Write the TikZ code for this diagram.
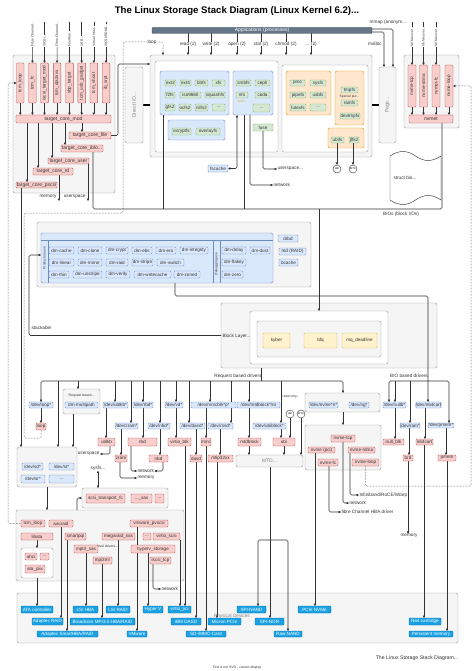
\documentclass[tikz,border=0pt]{standalone}
\usepackage{fontspec}
\setmainfont{Liberation Sans}
\usetikzlibrary{arrows.meta,calc}
\pgfdeclarelayer{back}
\pgfdeclarelayer{mid}
\pgfsetlayers{back,mid,main}
\definecolor{pkF}{HTML}{F8CECC}\definecolor{pkD}{HTML}{B85450}
\definecolor{blF}{HTML}{DAE8FC}\definecolor{blD}{HTML}{6C8EBF}
\definecolor{grF}{HTML}{D5E8D4}\definecolor{grD}{HTML}{82B366}
\definecolor{ogF}{HTML}{FFE6CC}\definecolor{ogD}{HTML}{D79B00}
\definecolor{ylF}{HTML}{FFF2CC}\definecolor{ylD}{HTML}{D6B656}
\definecolor{gyF}{HTML}{F5F5F5}\definecolor{gyD}{HTML}{999999}
\definecolor{phF}{HTML}{1BA1E2}\definecolor{phD}{HTML}{006EAF}
\definecolor{apF}{HTML}{647687}\definecolor{apD}{HTML}{314354}
\definecolor{wireC}{HTML}{333333}
\definecolor{txtC}{HTML}{333333}
\newcommand\fA{\fontsize{5}{5}\selectfont}
\newcommand\fM{\fontsize{4.6}{4.6}\selectfont}
\newcommand\fL{\fontsize{4.7}{4.7}\selectfont}
\newcommand\fS{\fontsize{3.4}{3.4}\selectfont}
\newcommand\BX[7]{\node[#1,minimum width={#5pt-#3pt},minimum height={#6pt-#4pt}] (#2) at ({(#3+#5)/2},{(#4+#6)/2}) {#7};}
\newcommand\VX[7]{\node[#1,rotate=90,minimum width={#6pt-#4pt},minimum height={#5pt-#3pt}] (#2) at ({(#3+#5)/2},{(#4+#6)/2}) {#7};}
\tikzset{
 sBox/.style={draw, rounded corners=0.8pt, line width=0.4pt, font=\fA, text=txtC, inner sep=0pt, outer sep=0pt},
 sPk/.style={sBox, fill=pkF, draw=pkD},
 sDrv/.style={sBox, fill=pkF, draw=pkD, font=\fM},
 sBl/.style={sBox, fill=blF, draw=blD, rounded corners=1.5pt},
 sDev/.style={sBox, fill=blF, draw=blD, font=\fM},
 sDm/.style={sBox, fill=blF, draw=blD, font=\fM},
 sFs/.style={sBox, fill=grF, draw=grD, font=\fM},
 sOg/.style={sBox, fill=ogF, draw=ogD, rounded corners=2pt},
 sYl/.style={sBox, fill=ylF, draw=ylD, font=\fM},
 sGy/.style={sBox, fill=gyF, draw=gyD, rounded corners=2pt},
 sWh/.style={sBox, fill=white, draw=gyD, rounded corners=2pt},
 sPh/.style={sBox, fill=phF, draw=phD, text=white, font=\fM},
 sApp/.style={sBox, fill=apF, draw=apD, text=white, font=\fontsize{5}{5}\selectfont, rounded corners=1pt},
 sLbl/.style={inner sep=0.3pt, font=\fL, text=txtC},
 sTiny/.style={inner sep=0pt, font=\fS, text=txtC},
 sIn/.style={rotate=90, anchor=west, inner sep=0.3pt, fill=white, font=\fS, text=txtC},
 sCirc/.style={circle, draw=wireC, fill=white, minimum size=8pt, inner sep=0pt, line width=0.4pt, font=\fontsize{2.6}{2.6}\selectfont},
 wire/.style={draw=wireC, line width=0.55pt, rounded corners=1.5pt},
 arr/.style={wire, -{Triangle[length=2.3pt,width=2.3pt]}},
 arrboth/.style={wire, {Triangle[length=2.3pt,width=2.3pt]}-{Triangle[length=2.3pt,width=2.3pt]}},
 dotw/.style={draw=wireC, line width=0.5pt, densely dotted, rounded corners=1.5pt, -{Triangle[length=2.3pt,width=2.3pt]}},
}
\begin{document}
\begin{tikzpicture}[x=1pt,y=-1pt]
\useasboundingbox (0,0) rectangle (474,671);
%================ containers
\begin{pgfonlayer}{back}
\fill[white] (0,0) rectangle (474,671);
\BX{sGy}{lio}{13}{55}{115}{193}{}
\BX{sGy}{vfs}{150}{55}{372}{157}{}
\BX{sWh}{vfsin}{155}{61}{278}{152}{}
\BX{sWh}{pseudo}{282}{65}{368}{152}{}
\BX{sBl}{blkfs}{160}{71}{229}{115}{}
\BX{sBl}{stackfs}{168}{120}{225}{140}{}
\BX{sBl}{netfs}{233}{71}{273}{115}{}
\BX{sOg}{pseudofs}{286}{71}{331}{115}{}
\BX{sOg}{specialfs}{335}{71}{364}{125}{}
\node[sTiny] (speclbl) at (349.5,96.5) {Special pur...};
\BX{sOg}{flashfs}{328}{128}{364}{148}{}
\BX{sGy}{nvmetgrp}{404}{55}{459}{128}{}
\BX{sGy}{dmouter}{37}{222}{311}{287}{}
\BX{sBl}{dmblue}{41}{233}{273}{283}{}
\draw[draw=blD,line width=0.4pt] (dmblue.west |- 0,240) -- (dmblue.east |- 0,240);
\draw[draw=blD,line width=0.4pt] (48,240) -- (48,0 |- dmblue.south);
\draw[draw=blD,line width=0.4pt] (213,240) -- (213,0 |- dmblue.south);
\draw[draw=blD,line width=0.4pt] (220,240) -- (220,0 |- dmblue.south);
\node[sTiny,rotate=90] (produse) at (44.5,258) {Production use};
\node[sTiny,rotate=90] (debuse) at (216.5,264) {Debugging use};
\BX{sGy}{blkouter}{221}{303}{437}{368}{}
\BX{sWh}{blkmid}{250}{311}{388}{364}{}
\BX{sGy}{blkin}{257}{321}{381}{357}{}
\node[sLbl,anchor=west] (blklbl) at (222,336) {Block Layer...};
\BX{sGy}{mpathgrp}{63}{389}{100}{414}{}
\node[sTiny] (mpathlbl) at (81.5,396) {Request based...};
\BX{sGy}{scsiup}{17}{447}{77}{487}{}
\BX{sGy}{scsitr}{82}{488}{168}{508}{}
\BX{sGy}{nvmegrp}{305}{393}{380}{412}{}
\BX{sGy}{nvmehost}{305}{425}{381}{470}{}
\BX{sGy}{scsimid}{16}{510}{184}{581}{}
\node[sTiny] (lowlbl) at (104,546) {Low level drivers...};
\BX{sWh}{atagrp}{21}{548}{53}{578}{}
\BX{sGy}{physgrp}{17}{593}{458}{643}{}
\node[sLbl,text=gray] (physlbl) at (232,616.5) {Physical Devices};
\end{pgfonlayer}
%================ title and top
\node[font=\bfseries\fontsize{9.6}{9.6}\selectfont,text=black] (title) at (237,11) {The Linux Storage Stack Diagram (Linux Kernel 6.2)...};
\BX{sApp}{apps}{152}{27.5}{372}{33.5}{Applications (processes)}
\node[sLbl,fill=white] (scRead) at (188,44) {read (2)};
\node[sLbl,fill=white] (scWrite) at (211,44) {write (2)};
\node[sLbl,fill=white] (scOpen) at (237,44) {open (2)};
\node[sLbl,fill=white] (scStat) at (261,44) {stat (2)};
\node[sLbl,fill=white] (scChmod) at (286,44) {chmod (2)};
\node[sLbl,fill=white] (scMore) at (311,44) {... (2)};
\node[sLbl,fill=white] (loopLbl) at (152,42) {loop};
\node[sLbl] (mmapLbl) at (388,22) {mmap (anonym...};
\node[sLbl] (mallocLbl) at (375,44) {malloc};
%================ LIO
\node[sIn] (inA) at (32.5,47) {Fibre Channel...};
\node[sIn] (inB) at (44.5,47) {iSCSI...};
\node[sIn] (inC) at (57,47) {Fibre Channel...};
\node[sIn] (inD) at (69.5,47) {FireWire...};
\node[sIn] (inE) at (81.7,47) {USB...};
\node[sIn] (inF) at (93.8,47) {Virtual Host...};
\node[sIn] (inG) at (106,47) {iSCSI/RDMA...};
\VX{sPk,font=\fM}{tcmloop}{16.5}{63}{24}{103}{tcm\_loop}
\VX{sPk,font=\fM}{tcmfc}{28.7}{63}{36.2}{103}{tcm\_fc}
\VX{sPk,font=\fM}{iscsitgt}{40.7}{63}{48.3}{103}{iscsi\_target\_mod}
\VX{sPk,font=\fM}{tcmqla}{53.3}{63}{60.8}{103}{tcm\_qla2xxx}
\VX{sPk,font=\fM}{sbptgt}{65.7}{63}{73.3}{103}{sbp\_target}
\VX{sPk,font=\fM}{tcmusb}{77.8}{63}{85.6}{103}{tcm\_usb\_gadget}
\VX{sPk,font=\fM}{tcmvhost}{90}{63}{97.6}{103}{tcm\_vhost}
\VX{sPk,font=\fM}{ibsrpt}{102.2}{63}{109.8}{103}{ib\_srpt}
\BX{sPk}{coremod}{16}{115}{111}{123}{target\_core\_mod}
\BX{sPk}{corefile}{69}{132}{111}{139}{target\_core\_file}
\BX{sPk}{coreiblk}{61}{145}{103}{152}{target\_core\_iblo...}
\BX{sPk}{coreuser}{48}{158}{89}{164}{target\_core\_user}
\BX{sPk}{corerd}{33}{168}{73}{175}{target\_core\_rd}
\BX{sPk}{corepscsi}{16}{182}{57}{188}{target\_core\_pscsi}
%================ VFS
\VX{sGy,text=gray}{directio}{125}{67}{143}{143}{Direct I/O...}
\VX{sGy,text=gray}{pagec}{379}{67}{396}{143}{Page...}
\BX{sFs}{ext2}{165}{80}{176}{86}{ext2}
\BX{sFs}{ext4}{180}{80}{191}{86}{ext4}
\BX{sFs}{btrfs}{195}{80}{208}{86}{btrfs}
\BX{sFs}{xfs}{212}{80}{225}{86}{xfs}
\BX{sFs}{f2fs}{165}{92}{175}{98}{f2fs}
\BX{sFs}{iso}{180}{92}{201}{98}{iso9660}
\BX{sFs}{squashfs}{205}{92}{225}{98}{squashfs}
\BX{sFs}{gfs2}{165}{104}{175}{111}{gfs2}
\BX{sFs}{ocfs2}{179}{104}{191}{111}{ocfs2}
\BX{sFs}{nilfs2}{195}{104}{208}{111}{nilfs2}
\BX{sFs}{blkmore}{212}{104}{225}{111}{...}
\BX{sFs}{ecryptfs}{172}{128}{191}{135}{ecryptfs}
\BX{sFs}{overlayfs}{196}{128}{220}{135}{overlayfs}
\BX{sFs}{smbfs}{236}{80}{251}{86}{smbfs}
\BX{sFs}{ceph}{255}{80}{270}{86}{ceph}
\BX{sFs}{nfs}{236}{92}{248}{98}{nfs}
\BX{sFs}{coda}{255}{92}{270}{98}{coda}
\BX{sFs}{netmore}{253}{104}{270}{112}{...}
\node[sTiny,text=ogD] (scsilbl) at (242,101.5) {scsi...};
\BX{sFs}{fuse}{253}{124}{273}{131}{fuse}
\BX{sFs}{proc}{290}{80}{305}{86}{proc}
\BX{sFs}{sysfs}{310}{80}{326}{86}{sysfs}
\BX{sFs}{pipefs}{290}{92}{306}{98}{pipefs}
\BX{sFs}{usbfs}{310}{92}{326}{98}{usbfs}
\BX{sFs}{futexfs}{290}{104}{306}{111}{futexfs}
\BX{sFs}{pseudomore}{310}{104}{326}{111}{...}
\BX{sFs}{tmpfs}{341}{87}{358}{93}{tmpfs}
\BX{sFs}{ramfs}{341}{100}{358}{106}{ramfs}
\BX{sFs}{devtmpfs}{340}{113}{360}{119}{devtmpfs}
\BX{sFs}{ubifs}{331}{137}{344}{143}{ubifs}
\BX{sFs}{jffs2}{349}{137}{359}{143}{jffs2}
\BX{sDev}{fscache}{208}{165}{228}{172}{fscache}
\node[sCirc] (cUBI1) at (337,169) {UBI};
\node[sCirc] (cMTD1) at (353,169) {MTD};
\draw[draw=wireC, fill=white, line width=0.45pt] (390,156) .. controls (399,150) and (407,150) .. (415.5,156) .. controls (424,162) and (432,162) .. (441,156) -- (441,200) .. controls (432,194) and (424,194) .. (415.5,200) .. controls (407,206) and (399,206) .. (390,200) -- cycle;
\node[sLbl,anchor=west] (structbio) at (393,178) {struct bio...};
%================ NVMe target
\node[sIn] (inN1) at (412,47) {NVMe over...};
\node[sIn] (inN2) at (423.5,47) {NVMe over...};
\node[sIn] (inN3) at (436,47) {NVMe over...};
\VX{sPk,font=\fM}{nvtcpt}{408}{65}{416}{107}{nvme-tcp}
\VX{sPk,font=\fM}{nvrdmat}{419.5}{65}{427.5}{107}{nvme-rdma}
\VX{sPk,font=\fM}{nvfct}{432}{65}{440}{107}{nvmet-fc}
\VX{sPk,font=\fM}{nvloopt}{445}{65}{453}{107}{nvme-loop}
\BX{sPk}{nvmet}{409}{115}{453}{123}{nvmet}
%================ Device mapper
\BX{sDm}{dmcache}{49}{247}{74}{254}{dm-cache}
\BX{sDm}{dmclone}{78}{247}{102}{254}{dm-clone}
\BX{sDm}{dmcrypt}{106}{247}{128}{254}{dm-crypt}
\BX{sDm}{dmebs}{132}{247}{152}{254}{dm-ebs}
\BX{sDm}{dmera}{156}{247}{176}{254}{dm-era}
\BX{sDm}{dmint}{180}{247}{208}{254}{dm-integrity}
\BX{sDm}{dmlinear}{49}{259}{74}{266}{dm-linear}
\BX{sDm}{dmmirror}{78}{259}{102}{266}{dm-mirror}
\BX{sDm}{dmraid}{106}{259}{128}{266}{dm-raid}
\BX{sDm}{dmstripe}{132}{259}{153}{266}{dm-stripe}
\BX{sDm}{dmswitch}{157}{259}{184}{266}{dm-switch}
\BX{sDm}{dmthin}{49}{271}{69}{278}{dm-thin}
\BX{sDm}{dmunstripe}{73}{271}{102}{278}{dm-unstripe}
\BX{sDm}{dmverity}{106}{271}{130}{278}{dm-verity}
\BX{sDm}{dmwc}{134}{271}{171}{278}{dm-writecache}
\BX{sDm}{dmzoned}{174}{271}{200}{278}{dm-zoned}
\BX{sDm}{dmdelay}{222}{247}{246}{254}{dm-delay}
\BX{sDm}{dmdust}{250}{247}{270}{254}{dm-dust}
\BX{sDm}{dmflakey}{222}{259}{246}{266}{dm-flakey}
\BX{sDm}{dmzero}{222}{271}{243}{278}{dm-zero}
\BX{sDm}{drbd}{278}{235}{298}{242}{drbd}
\BX{sDm}{mdraid}{279}{248}{306}{255}{md (RAID)}
\BX{sDm}{bcache}{279}{259}{298}{266}{bcache}
%================ Block layer
\BX{sYl}{kyber}{263}{333}{290}{348}{kyber}
\BX{sYl}{bfq}{304}{333}{337}{348}{bfq}
\BX{sYl}{mqdl}{342}{333}{377}{348}{mq\_deadline}
%================ request based
\BX{sDev}{loopdev}{29}{402}{53}{408}{/dev/loop*}
\BX{sDrv}{loopdrv}{36}{423}{46}{430}{loop}
\BX{sDev}{mpath}{65}{402}{98}{408}{dm-multipath}
\BX{sDev}{ublkdev}{103}{402}{128}{408}{/dev/ublkb*}
\BX{sDrv}{ublk}{98}{438}{115}{446}{ublkb}
\BX{sDev}{zramdev}{115}{423}{138}{429}{/dev/zram*}
\BX{sDrv}{zram}{115}{455}{127}{462}{zram}
\BX{sDev}{rbddev}{133}{402}{153}{408}{/dev/rbd*}
\BX{sDrv}{rbd}{128}{438}{157}{446}{rbd}
\BX{sDev}{nbddev}{148}{423}{170}{429}{/dev/nbd*}
\BX{sDrv}{nbd}{149}{455}{168}{462}{nbd}
\BX{sDev}{vddev}{165}{402}{183}{408}{/dev/vd*}
\BX{sDrv}{vblk}{168}{438}{191}{446}{virtio\_blk}
\BX{sDev}{dasddev}{180}{423}{205}{429}{/dev/dasd*}
\BX{sDrv}{dasd}{190}{455}{202}{462}{dasd}
\BX{sDev}{mmcdev}{191}{402}{236}{408}{/dev/mmcblk*p*}
\BX{sDrv}{mmc}{201}{438}{211}{446}{mmc}
\BX{sDev}{rssddev}{208}{423}{233}{429}{/dev/rssd*}
\BX{sDrv}{mtip}{208}{455}{233}{462}{mtip32xx}
\BX{sDev}{mtdbdev}{237}{402}{280}{408}{/dev/mtdblock*/ro}
\BX{sDrv}{mtdblock}{238}{438}{261}{446}{mtdblock}
\BX{sDev}{ubibdev}{253}{423}{286}{429}{/dev/ubiblock*}
\BX{sDrv}{ubi}{273}{438}{295}{446}{ubi}
\node[sTiny] (rolbl) at (291,397) {read-only...};
\node[sCirc] (cUBI2) at (290,414) {UBI};
\node[sCirc] (cMTD2) at (301,414) {MTD};
\BX{sGy,text=gray}{mtd}{236}{455}{303}{467}{MTD...}
\BX{sDev}{nvmedev}{309}{402}{338}{408}{/dev/nvme*n*}
\BX{sDev}{ngdev}{349}{402}{369}{408}{/dev/ng*}
\BX{sDrv}{hnvtcp}{331}{435}{355}{442}{nvme-tcp}
\BX{sDrv}{hnvpci}{308}{447}{335}{453}{nvme (pci)}
\BX{sDrv}{hnvrdma}{348}{447}{375}{453}{nvme-rdma}
\BX{sDrv}{hnvfc}{318}{459}{338}{466}{nvme-fc}
\BX{sDrv}{hnvloop}{352}{459}{379}{466}{nvme-loop}
%================ BIO based
\BX{sDev}{nullbdev}{383}{402}{406}{408}{/dev/nullb*}
\BX{sDrv}{nullblk}{383}{439}{404}{445}{null\_blk}
\BX{sDev}{n64dev}{416}{402}{441}{408}{/dev/n64cart}
\BX{sDrv}{n64cart}{416}{439}{433}{445}{n64cart}
\BX{sDev}{ramdev}{400}{423}{420}{428}{/dev/ram*}
\BX{sDrv}{brd}{403}{455}{413}{461}{brd}
\BX{sDev}{pmemdev}{428}{423}{454}{428}{/dev/pmem*}
\BX{sDrv}{pmem}{438}{455}{456}{461}{pmem}
%================ SCSI
\BX{sDev}{sddev}{22}{463}{43}{470}{/dev/sd*}
\BX{sDev}{stdev}{49}{463}{74}{470}{/dev/st*}
\BX{sDev}{srdev}{21}{475}{45}{483}{/dev/sr*}
\BX{sDev}{scsimore}{49}{475}{74}{483}{...}
\node[sLbl] (sysfslbl) at (98,468) {sysfs...};
\BX{sDrv}{stfc}{86}{494}{125}{503}{scsi\_transport\_fc}
\BX{sDrv}{stsas}{131}{494}{152}{503}{...\_sas}
\BX{sDrv}{stmore}{155}{494}{164}{503}{...}
\BX{sDrv}{tcmloop2}{21}{520}{45}{527}{tcm\_loop}
\BX{sDrv}{aacraid}{49}{520}{73}{527}{aacraid}
\BX{sDrv}{vmware}{130}{520}{168}{527}{vmware\_pvscsi}
\BX{sDrv}{libata}{21}{533}{53}{540}{libata}
\BX{sDrv}{smartpqi}{65}{533}{86}{540}{smartpqi}
\BX{sDrv}{megaraid}{102}{533}{135}{540}{megaraid\_sas}
\BX{sDrv}{midmore}{143}{533}{151}{540}{...}
\BX{sDrv}{vscsi}{153}{533}{180}{540}{virtio\_scsi}
\BX{sDrv}{mpt3sas}{74}{545}{98}{553}{mpt3\_sas}
\BX{sDrv}{hyperv}{131}{545}{175}{553}{hyperv\_storage}
\BX{sDrv}{mpi3mr}{93}{557}{112}{564}{mpi3mr}
\BX{sDrv}{iscsitcp}{150}{557}{171}{564}{iscsi\_tcp}
\BX{sDrv}{ahci}{25}{553}{37}{560}{ahci}
\BX{sDrv}{atamore}{40}{553}{49}{560}{...}
\BX{sDrv}{atapiix}{25}{565}{45}{573}{ata\_piix}
%================ physical
\BX{sPh}{pATA}{21}{606}{53}{613}{ATA controller}
\BX{sPh}{pLSIHBA}{73}{606}{98}{613}{LSI HBA}
\BX{sPh}{pLSIRAID}{106}{606}{130}{613}{LSI RAID}
\BX{sPh}{pHyperV}{143}{606}{163}{613}{Hyper V}
\BX{sPh}{pVirtio}{168}{606}{191}{613}{virtio\_pci}
\BX{sPh}{pSPINAND}{237}{606}{266}{613}{SPI-NAND}
\BX{sPh}{pNVMe}{298}{606}{331}{613}{PCIe NVMe}
\BX{sPh}{pAdRAID}{32}{618}{63}{625}{Adaptec RAID}
\BX{sPh}{pBroad}{70}{618}{135}{625}{Broadcom MPI3.0 HBA/RAID}
\BX{sPh}{pDASD}{171}{618}{201}{625}{IBM DASD}
\BX{sPh}{pMicron}{208}{618}{241}{625}{Micron PCIe}
\BX{sPh}{pSPINOR}{255}{618}{284}{625}{SPI-NOR}
\BX{sPh}{pN64}{409}{618}{441}{625}{N64 cartridge}
\BX{sPh}{pSmart}{37}{631}{98}{637}{Adaptec SmartHBA/RAID}
\BX{sPh}{pVMware}{127}{631}{147}{637}{VMware}
\BX{sPh}{pSD}{186}{631}{226}{637}{SD-/MMC-Card}
\BX{sPh}{pRawNAND}{274}{631}{302}{637}{Raw NAND}
\BX{sPh}{pPmem}{409}{631}{453}{637}{Persistent memory}
%================ labels
\node[sLbl,anchor=east] (lMem1) at (57,197) {memory};
\node[sLbl,anchor=east] (lUsr1) at (86,197) {userspace};
\node[sLbl,anchor=west] (lUsr2) at (277,169) {userspace...};
\node[sLbl,anchor=west] (lNet1) at (273,185) {network};
\node[sLbl] (lBios) at (401,214) {BIOs (block I/Os)};
\node[sLbl,anchor=west] (lStack) at (31,328) {stackable};
\node[sLbl] (lReq) at (238,376) {Request based drivers};
\node[sLbl] (lBio) at (409,376) {BIO based drivers};
\node[sLbl,anchor=east] (lUsr3) at (100,454) {userspace};
\node[sLbl,anchor=west] (lMem2) at (137,478) {memory};
\node[sLbl,anchor=west] (lNet2) at (137,471) {network};
\node[sLbl,anchor=west] (lNet3) at (349,503) {network};
\node[sLbl,anchor=west] (lIB) at (359,495) {Infiniband/RoCE/iWarp};
\node[sLbl,anchor=west] (lFC) at (341,512) {fibre Channel HBA driver};
\node[sLbl] (lMem3) at (409,536) {memory};
\node[sLbl,anchor=west] (lNet4) at (161,589) {network};
\node[inner sep=0pt,font=\fontsize{5.2}{5.2}\selectfont,text=txtC] (footer) at (417,658) {The Linux Storage Stack Diagram...};
\node[sTiny] (svgnote) at (237,668) {Text is not SVG - cannot display};
%================ wires
\begin{pgfonlayer}{mid}
\foreach \nm in {scRead,scWrite,scOpen,scStat,scChmod,scMore}
  \draw[arr] (apps.south -| \nm) -- (\nm |- vfs.north);
\draw[dotw] (loopdrv.south) |- (24,438) -- (24,213) -- (123,213) -- (123,42) -| (163,0 |- vfs.north);
\draw[dotw] (tcmloop2.west) -| (8,300) |- (tcmloop.north);
\draw[arr] (inA.center |- 0,22) -- (tcmfc.east);
\draw[arr] (inB.center |- 0,22) -- (iscsitgt.east);
\draw[arr] (inC.center |- 0,22) -- (tcmqla.east);
\draw[arr] (inD.center |- 0,22) -- (sbptgt.east);
\draw[arr] (inE.center |- 0,22) -- (tcmusb.east);
\draw[arr] (inF.center |- 0,22) -- (tcmvhost.east);
\draw[arr] (inG.center |- 0,22) -- (ibsrpt.east);
\foreach \nm in {tcmloop,tcmfc,iscsitgt,tcmqla,sbptgt,tcmusb,tcmvhost,ibsrpt}
  \draw[arr] (\nm.west) -- (\nm.west |- coremod.north);
\draw[arr] (82,0 |- coremod.south) -- (82,0 |- corefile.north);
\draw[arr] (65,0 |- coremod.south) -- (65,0 |- coreiblk.north);
\draw[arr] (52,0 |- coremod.south) -- (52,0 |- coreuser.north);
\draw[arr] (38,0 |- coremod.south) -- (38,0 |- corerd.north);
\draw[arr] (27,0 |- coremod.south) -- (27,0 |- corepscsi.north);
\draw[arr] (corefile.east) -- ++(7,0) |- (vfs.west |- 0,64);
\draw[line width=1.5pt] (directio.south) -- (vfs.west |- directio.south);
\draw[line width=1.5pt] (vfs.east |- pagec.north) -- (pagec.north);
\draw[arr] (apps.east |- 0,29) -| (393,0 |- pagec.east);
\draw[arr] (apps.east |- 0,32) -| (384,0 |- pagec.east);
\draw[arr] (21,0 |- corepscsi.south) -- (21,0 |- scsiup.north);
\draw[arr] (59,0 |- corerd.south) -- (59,201);
\draw[arr] (88,0 |- coreuser.south) -- (88,201);
\draw[wire] (93,0 |- coreiblk.south) |- (442,209) -- (442,0 |- nvmet.south);
\draw[wire] (163,0 |- blkfs.south) -- (163,209);
\draw[wire] (244,0 |- netfs.south) -- (244,209);
\draw[arr] (319,209) -- (319,0 |- blkmid.north);
\draw[arrboth] (237,0 |- netfs.south) |- (fscache.east);
\draw[arr] (fuse.south) |- (lUsr2.west);
\draw[arr] (250,0 |- netfs.south) |- (lNet1.west);
\draw[arr] (ubifs.south -| cUBI1) -- (cUBI1.north);
\draw[arr] (jffs2.south -| cMTD1) -- (cMTD1.north);
\draw[arr] (inN1.center |- 0,22) -- (nvtcpt.east);
\draw[arr] (inN2.center |- 0,22) -- (nvrdmat.east);
\draw[arr] (inN3.center |- 0,22) -- (nvfct.east);
\foreach \nm in {nvtcpt,nvrdmat,nvfct,nvloopt}
  \draw[arr] (\nm.west) -- (\nm.west |- nvmet.north);
\draw[dotw] (hnvloop.south) |- (471,486) |- (nvloopt.south);
\draw[arr] (blkouter.west) -| (29,255) -- (dmblue.west |- 0,255);
\draw[arr] (175,0 |- dmblue.south) |- (428,296) -- (428,0 |- n64dev.north);
\draw[wire] (261,0 |- blkouter.south) -- (261,381);
\draw[arr] (261,381) -| (loopdev.north);
\draw[arr] (261,381) -| (343,0 |- nvmegrp.north);
\foreach \xx/\nm in {58/scsiup,78/mpathgrp,115/ublkdev,131/zramdev,143/rbddev,160/nbddev,176/vddev,189/dasddev,210/mmcdev,231/rssddev,249/mtdbdev,281/ubibdev}
  \draw[arr] (\xx,381) -- (\xx,0 |- \nm.north);
\draw[arr] (428,381) -| (389,0 |- nullbdev.north);
\draw[arr] (428,381) -| (449,0 |- pmemdev.north);
\draw[arr] (395,381) -- (395,0 |- nullbdev.north);
\draw[arr] (410,381) -- (410,0 |- ramdev.north);
\draw[arr] (loopdev.south) -- (loopdrv.north);
\draw[arr] (73,0 |- mpathgrp.south) -- (73,0 |- scsiup.north);
\draw[arr] (106,0 |- ublkdev.south) -- (106,0 |- ublk.north);
\draw[arr] (121,0 |- zramdev.south) -- (121,0 |- zram.north);
\draw[arr] (143,0 |- rbddev.south) -- (143,0 |- rbd.north);
\draw[arr] (160,0 |- nbddev.south) -- (160,0 |- nbd.north);
\draw[arr] (176,0 |- vddev.south) -- (176,0 |- vblk.north);
\draw[arr] (196,0 |- dasddev.south) -- (196,0 |- dasd.north);
\draw[arr] (206,0 |- mmcdev.south) -- (206,0 |- mmc.north);
\draw[arr] (220,0 |- rssddev.south) -- (220,0 |- mtip.north);
\draw[arr] (249,0 |- mtdbdev.south) -- (249,0 |- mtdblock.north);
\draw[arr] (281,0 |- ubibdev.south) -- (281,0 |- ubi.north);
\draw[arr] (cUBI2.south) -- (cUBI2.south |- ubi.north);
\draw[arr] (cMTD2.south) -- (cMTD2.south |- mtd.north);
\draw[arr] (249,0 |- mtdblock.south) -- (249,0 |- mtd.north);
\draw[arr] (284,0 |- ubi.south) -- (284,0 |- mtd.north);
\draw[arr] (110,0 |- ublk.south) |- (lUsr3.east);
\draw[arr] (120,0 |- zram.south) |- (lMem2.west);
\draw[arr] (131,0 |- rbd.south) |- (lNet2.west);
\draw[arr] (163,0 |- nbd.south) |- (lNet2.east);
\draw[arr] (185,0 |- vblk.south) -- (185,0 |- pVirtio.north);
\draw[arr] (196,0 |- dasd.south) -- (196,0 |- pDASD.north);
\draw[arr] (206,0 |- mmc.south) -- (206,0 |- pSD.north);
\draw[arr] (217,0 |- mtip.south) -- (217,0 |- pMicron.north);
\draw[arr] (270,0 |- mtd.south) -- (270,0 |- pSPINOR.north);
\draw[arr] (270,540) -| (258,0 |- pSPINAND.north);
\draw[arr] (270,540) -| (288,0 |- pRawNAND.north);
\draw[arr] (343,0 |- nvmegrp.south) -- (343,0 |- nvmehost.north);
\draw[arr] (343,0 |- hnvtcp.south) |- (lNet3.west);
\draw[arr] (350,0 |- hnvrdma.south) |- (lIB.west);
\draw[arr] (329,0 |- hnvfc.south) |- (lFC.west);
\draw[arr] (315,0 |- hnvpci.south) -- (315,0 |- pNVMe.north);
\draw[arr] (395,0 |- nullbdev.south) -- (395,0 |- nullblk.north);
\draw[arr] (425,0 |- n64dev.south) -- (425,0 |- n64cart.north);
\draw[arr] (409,0 |- ramdev.south) -- (409,0 |- brd.north);
\draw[arr] (446,0 |- pmemdev.south) -- (446,0 |- pmem.north);
\draw[arr] (408,0 |- brd.south) -- (408,0 |- lMem3.north);
\draw[arr] (424,0 |- n64cart.south) -- (424,0 |- pN64.north);
\draw[arr] (447,0 |- pmem.south) -- (447,0 |- pPmem.north);
\draw[arrboth] (98,0 |- sysfslbl.south) -- (98,0 |- scsitr.north);
\draw[arr] (47,0 |- scsiup.south) -- (47,0 |- scsimid.north);
\draw[arr] (77,0 |- scsimid.north) |- (scsitr.west);
\draw[arr] (libata.south -| atagrp.north) -- (atagrp.north);
\draw[arr] (atagrp.south) -- (atagrp.south |- pATA.north);
\draw[arr] (61,0 |- aacraid.south) -- (61,0 |- pAdRAID.north);
\draw[arr] (67,0 |- smartpqi.south) -- (67,0 |- pSmart.north);
\draw[arr] (86,0 |- mpt3sas.south) -- (86,0 |- pLSIHBA.north);
\draw[arr] (102,0 |- mpi3mr.south) -- (102,0 |- pBroad.north);
\draw[arr] (118,0 |- megaraid.south) -- (118,0 |- pLSIRAID.north);
\draw[arr] (137,0 |- vmware.south) -- (137,0 |- pVMware.north);
\draw[arr] (148,0 |- hyperv.south) -- (148,0 |- pHyperV.north);
\draw[arr] (153,0 |- iscsitcp.south) |- (lNet4.west);
\draw[arr] (180,0 |- vscsi.south) -- (180,0 |- pVirtio.north);
\end{pgfonlayer}
\end{tikzpicture}
\end{document}
